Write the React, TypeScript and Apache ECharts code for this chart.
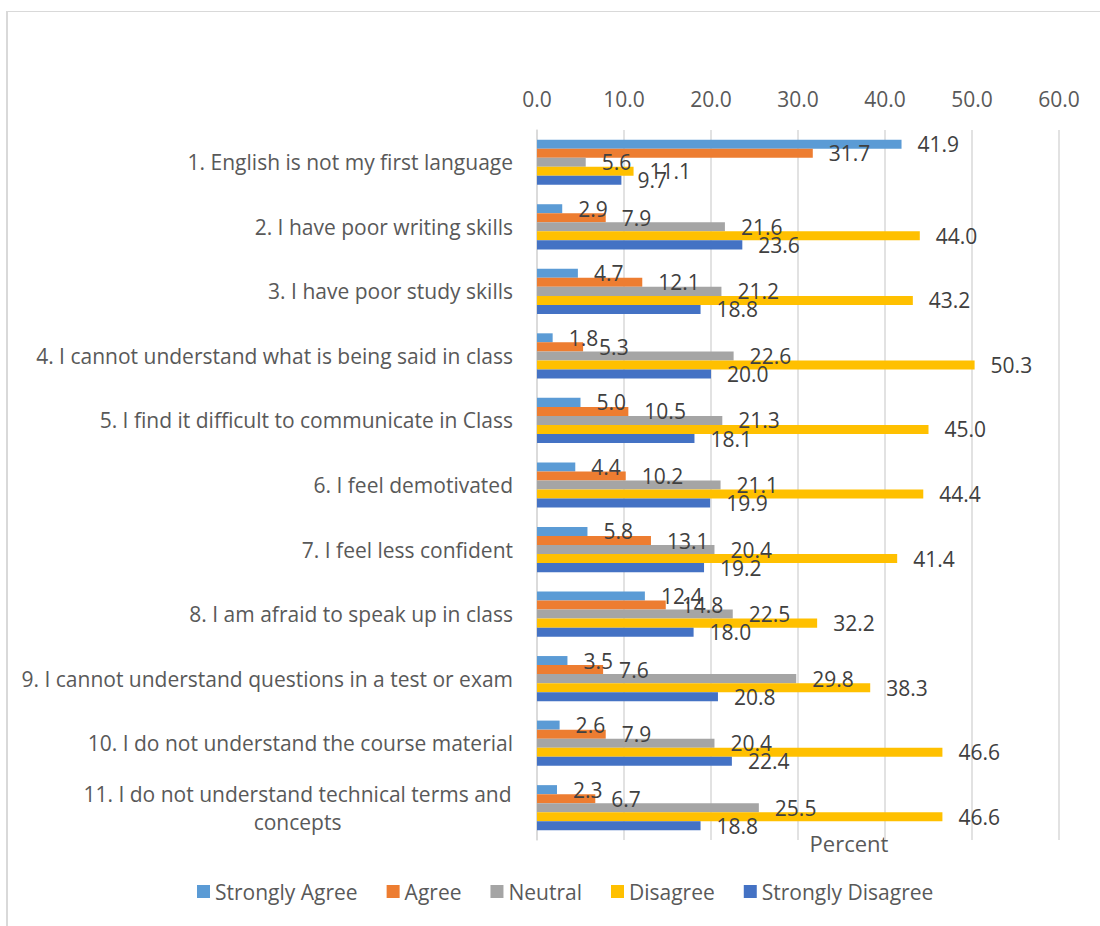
import React, { useEffect, useRef } from "react";
import * as echarts from "echarts";

const categories = [
  "1. English is not my first language",
  "2. I have poor writing skills",
  "3. I have poor study skills",
  "4. I cannot understand what is being said in class",
  "5. I find it difficult to communicate in Class",
  "6. I feel demotivated",
  "7. I feel less confident",
  "8. I am afraid to speak up in class",
  "9. I cannot understand questions in a test or exam",
  "10. I do not understand the course material",
  "11. I do not understand technical terms and\nconcepts",
];

const seriesNames = ["Strongly Agree", "Agree", "Neutral", "Disagree", "Strongly Disagree"];
const stronglyAgree = [41.9, 2.9, 4.7, 1.8, 5.0, 4.4, 5.8, 12.4, 3.5, 2.6, 2.3];
const agree = [31.7, 7.9, 12.1, 5.3, 10.5, 10.2, 13.1, 14.8, 7.6, 7.9, 6.7];
const neutral = [5.6, 21.6, 21.2, 22.6, 21.3, 21.1, 20.4, 22.5, 29.8, 20.4, 25.5];
const disagree = [11.1, 44.0, 43.2, 50.3, 45.0, 44.4, 41.4, 32.2, 38.3, 46.6, 46.6];
const stronglyDisagree = [9.7, 23.6, 18.8, 20.0, 18.1, 19.9, 19.2, 18.0, 20.8, 22.4, 18.8];
const seriesColors = ["#5B9BD5", "#ED7D31", "#A5A5A5", "#FFC000", "#4472C4"];
const axisTitle = "Percent";

const FONT = '"Open Sans", "Noto Sans", sans-serif';

export default function App() {
  const ref = useRef<HTMLDivElement>(null);
  useEffect(() => {
    if (!ref.current) return;
    const chart = echarts.init(ref.current, null, { renderer: "svg" });
    const values = [stronglyAgree, agree, neutral, disagree, stronglyDisagree];

    // measure widest line of multi-line labels to center lines
    let wrapWidth = 430;
    try {
      const ctx = document.createElement("canvas").getContext("2d");
      if (ctx) {
        ctx.font = '21px "Open Sans"';
        categories.forEach((c) => {
          if (c.includes("\n")) {
            const w = Math.max(...c.split("\n").map((l) => ctx.measureText(l).width));
            wrapWidth = Math.ceil(w) + 2;
          }
        });
      }
    } catch (e) {}

    chart.setOption({
      animation: false,
      textStyle: { fontFamily: FONT },
      grid: { left: 537, right: 41, top: 130, bottom: 86, containLabel: false },
      legend: {
        data: seriesNames,
        left: 192,
        top: 876,
        icon: "rect",
        itemWidth: 13,
        itemHeight: 13,
        itemGap: 29,
        textStyle: { color: "#595959", fontSize: 21, fontFamily: FONT },
      },
      xAxis: {
        type: "value",
        position: "top",
        min: 0,
        max: 60,
        interval: 10,
        axisLine: { show: false },
        axisTick: { show: false },
        axisLabel: {
          color: "#595959",
          fontSize: 21,
          fontFamily: FONT,
          margin: 21,
          formatter: (v: number) => v.toFixed(1),
        },
        splitLine: { show: true, lineStyle: { color: "#D9D9D9", width: 1.5 } },
      },
      yAxis: {
        type: "category",
        inverse: true,
        data: categories,
        axisLine: { show: true, lineStyle: { color: "#D9D9D9", width: 1.5 } },
        axisTick: { show: false },
        axisLabel: {
          interval: 0,
          color: "#595959",
          fontSize: 21,
          fontFamily: FONT,
          margin: 24,
          formatter: (v: string) => {
            if (v.includes("\n")) {
              return v
                .split("\n")
                .map((l) => `{c|${l}}`)
                .join("\n");
            }
            return v;
          },
          rich: {
            c: {
              width: wrapWidth,
              align: "center",
              lineHeight: 28,
              fontSize: 21,
              color: "#595959",
              fontFamily: FONT,
            },
          },
        },
      },
      graphic: [
        { type: "line", shape: { x1: 7, y1: 11.5, x2: 1100, y2: 11.5 }, style: { stroke: "#D9D9D9", lineWidth: 1 } },
        { type: "line", shape: { x1: 7, y1: 11, x2: 7, y2: 926 }, style: { stroke: "#D9D9D9", lineWidth: 2 } },
        {
          type: "text",
          x: 849,
          y: 843,
          style: {
            text: axisTitle,
            fill: "#595959",
            fontSize: 22,
            fontFamily: FONT,
            align: "center",
            verticalAlign: "middle",
          },
        },
      ],
      series: seriesNames.map((name, i) => ({
        name,
        type: "bar",
        data: values[i],
        barGap: "0%",
        barCategoryGap: "30%",
        itemStyle: { color: seriesColors[i] },
        label: {
          show: true,
          position: "right",
          distance: 16,
          color: "#404040",
          fontSize: 21,
          fontFamily: FONT,
          formatter: (p: any) => Number(p.value).toFixed(1),
        },
      })),
    });
    return () => chart.dispose();
  }, []);

  return (
    <div
      ref={ref}
      style={{ position: "absolute", left: 0, top: 0, width: 1100, height: 926, background: "#fff" }}
    />
  );
}
